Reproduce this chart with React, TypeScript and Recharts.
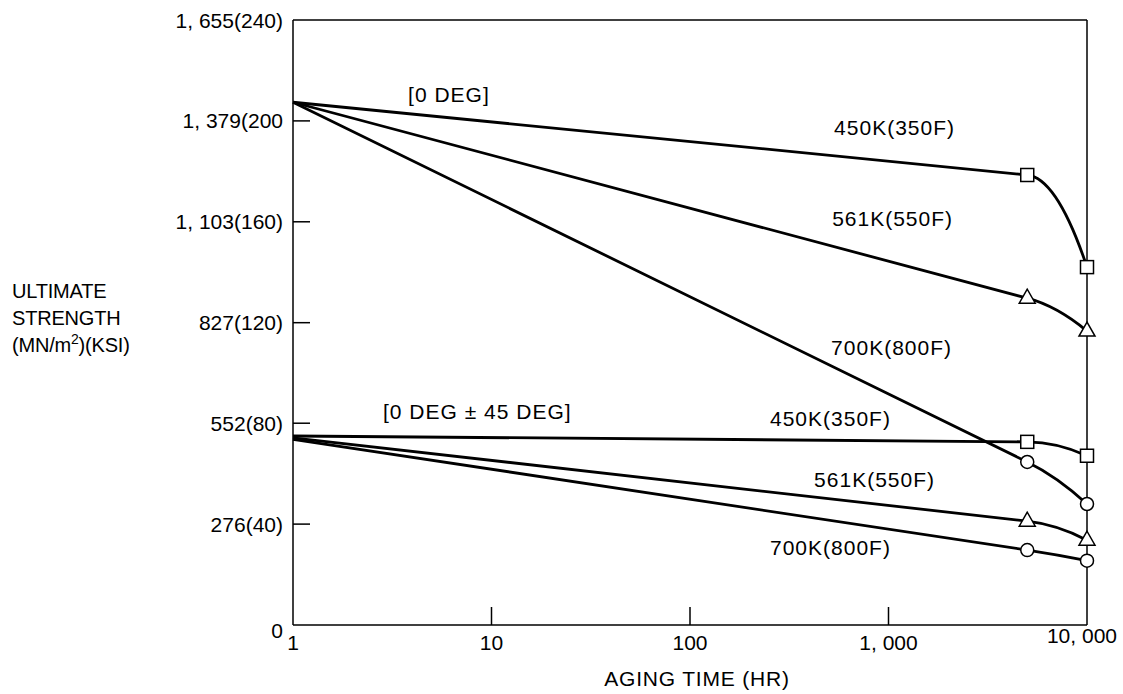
import React from 'react';
import { LineChart, Line, XAxis, YAxis, ReferenceLine, ReferenceDot } from 'recharts';

const FONT = '"Liberation Sans", Arial, sans-serif';

// Aging time (hr) where readings were taken
const hours = [1, 5000, 10000];

// Ultimate strength, MN/m^2
const deg0_450K = [1430, 1231, 979];
const deg0_561K = [1430, 894, 804];
const deg0_700K = [1430, 446, 331];
const deg45_450K = [517, 501, 463];
const deg45_561K = [512, 284, 232];
const deg45_700K = [508, 205, 176];

const yTicks = [0, 276, 552, 827, 1103, 1379, 1655];
const yTickLabels = ['0', '276(40)', '552(80)', '827(120)', '1, 103(160)', '1, 379(200', '1, 655(240)'];
const xTicks = [1, 10, 100, 1000, 10000];
const xTickLabels = ['1', '10', '100', '1, 000', '10, 000'];

const annotations = [
  { text: '[0 DEG]', x: 3.8, y: 1451, anchor: 'start' },
  { text: '450K(350F)', x: 2163, y: 1360, anchor: 'end' },
  { text: '561K(550F)', x: 2114, y: 1113, anchor: 'end' },
  { text: '700K(800F)', x: 2089, y: 758, anchor: 'end' },
  { text: '[0 DEG \u00B1 45 DEG]', x: 2.84, y: 583, anchor: 'start' },
  { text: '450K(350F)', x: 253, y: 566, anchor: 'start' },
  { text: '561K(550F)', x: 1715, y: 397, anchor: 'end' },
  { text: '700K(800F)', x: 253, y: 211, anchor: 'start' },
];

const series = [
  { key: 'd0_450', values: deg0_450K, marker: 'square' },
  { key: 'd0_561', values: deg0_561K, marker: 'triangle' },
  { key: 'd0_700', values: deg0_700K, marker: 'circle' },
  { key: 'd45_450', values: deg45_450K, marker: 'square' },
  { key: 'd45_561', values: deg45_561K, marker: 'triangle' },
  { key: 'd45_700', values: deg45_700K, marker: 'circle' },
];

// straight segments, with a smooth bend on the last segment
const tailCurve = (context: any) => {
  let pts: [number, number][] = [];
  return {
    areaStart() {},
    areaEnd() {},
    lineStart() {
      pts = [];
    },
    lineEnd() {
      const n = pts.length;
      if (!n) return;
      context.moveTo(pts[0][0], pts[0][1]);
      if (n < 3) {
        for (let i = 1; i < n; i++) context.lineTo(pts[i][0], pts[i][1]);
        return;
      }
      for (let i = 1; i <= n - 2; i++) context.lineTo(pts[i][0], pts[i][1]);
      const [ax, ay] = pts[n - 3];
      const [bx, by] = pts[n - 2];
      const [cx, cy] = pts[n - 1];
      const k = 0.5;
      const xm = bx + k * (cx - bx);
      const slope = (by - ay) / (bx - ax);
      const ym = by + slope * (xm - bx);
      context.quadraticCurveTo(xm, ym, cx, cy);
    },
    point(x: number, y: number) {
      pts.push([x, y]);
    },
  };
};

const makeDot = (shape: string) => (props: any) => {
  const { cx, cy, index } = props;
  const key = `dot-${shape}-${index}`;
  if (index === 0 || cx == null || cy == null) return <g key={key} />;
  const common = { fill: '#fff', stroke: '#000', strokeWidth: 1.5 };
  if (shape === 'square') {
    return <rect key={key} x={cx - 6.5} y={cy - 6.5} width={13} height={13} {...common} />;
  }
  if (shape === 'triangle') {
    return <polygon key={key} points={`${cx},${cy - 9} ${cx - 8},${cy + 5} ${cx + 8},${cy + 5}`} {...common} />;
  }
  return <circle key={key} cx={cx} cy={cy} r={6.5} {...common} />;
};

const txt = (size: number, spacing: number) => ({
  fontFamily: FONT,
  fontSize: size,
  letterSpacing: spacing,
  fill: '#000',
});

const YTick = (props: any) => {
  const { x, y, payload } = props;
  const i = yTicks.indexOf(payload.value);
  const axisX = x + 10;
  const showLine = payload.value !== 0 && payload.value !== 1655;
  return (
    <g>
      <text x={x} y={payload.value === 0 ? y + 13 : y + 7.5} textAnchor="end" {...txt(21, 0)}>
        {yTickLabels[i]}
      </text>
      {showLine && <line x1={axisX} x2={axisX + 17} y1={y} y2={y} stroke="#000" strokeWidth={1.5} />}
    </g>
  );
};

const XTick = (props: any) => {
  const { x, y, payload } = props;
  const i = xTicks.indexOf(payload.value);
  const axisY = y - 8;
  const showLine = payload.value !== 1 && payload.value !== 10000;
  const last = payload.value === 10000;
  return (
    <g>
      <text x={last ? x + 30 : x} y={last ? y + 10 : y + 16.5} textAnchor={last ? 'end' : 'middle'} {...txt(21, 0)}>
        {xTickLabels[i]}
      </text>
      {showLine && <line x1={x} x2={x} y1={axisY} y2={axisY - 18} stroke="#000" strokeWidth={1.5} />}
    </g>
  );
};

const XTitle = (props: any) => {
  const vb = props.viewBox || {};
  return (
    <text x={vb.x + vb.width / 2 + 7} y={vb.y + 60.5} textAnchor="middle" {...txt(21, 0.8)}>
      AGING TIME (HR)
    </text>
  );
};

const YTitle = () => (
  <text {...txt(20, -0.2)}>
    <tspan x={4} y={290}>ULTIMATE</tspan>
    <tspan x={4} y={317}>STRENGTH</tspan>
    <tspan x={4} y={344}>(MN/m</tspan>
    <tspan fontSize={14} dy={-8}>2</tspan>
    <tspan dy={8}>)(KSI)</tspan>
  </text>
);

export default function App() {
  return (
    <div style={{ position: 'absolute', left: 8, top: 8, width: 1115, height: 686, background: '#fff' }}>
      <LineChart width={1115} height={686} margin={{ top: 12, right: 36, left: 165, bottom: 29 }}>
        <XAxis
          type="number"
          dataKey="t"
          scale="log"
          domain={[1, 10000]}
          ticks={xTicks}
          tickSize={0}
          tickMargin={8}
          height={40}
          tick={<XTick />}
          axisLine={{ stroke: '#000', strokeWidth: 1.5 }}
          label={{ content: <XTitle /> }}
        />
        <YAxis
          type="number"
          dataKey="v"
          domain={[0, 1655]}
          ticks={yTicks}
          tickSize={0}
          tickMargin={10}
          width={120}
          tick={<YTick />}
          axisLine={{ stroke: '#000', strokeWidth: 1.5 }}
          label={{ content: <YTitle /> }}
        />
        <ReferenceLine y={1655} stroke="#000" strokeWidth={1.5} />
        <ReferenceLine x={10000} stroke="#000" strokeWidth={1.5} />
        {series.map((s) => (
          <Line
            key={s.key}
            data={hours.map((t, i) => ({ t, v: s.values[i] }))}
            dataKey="v"
            type={tailCurve as any}
            stroke="#000"
            strokeWidth={2.8}
            dot={makeDot(s.marker)}
            activeDot={false}
            isAnimationActive={false}
          />
        ))}
        {annotations.map((a, i) => (
          <ReferenceDot
            key={`ann-${i}`}
            x={a.x}
            y={a.y}
            r={0}
            ifOverflow="visible"
            shape={(p: any) => (
              <text x={p.cx} y={p.cy + 7.5} textAnchor={a.anchor as any} {...txt(21, 1)}>
                {a.text}
              </text>
            )}
          />
        ))}
      </LineChart>
    </div>
  );
}
